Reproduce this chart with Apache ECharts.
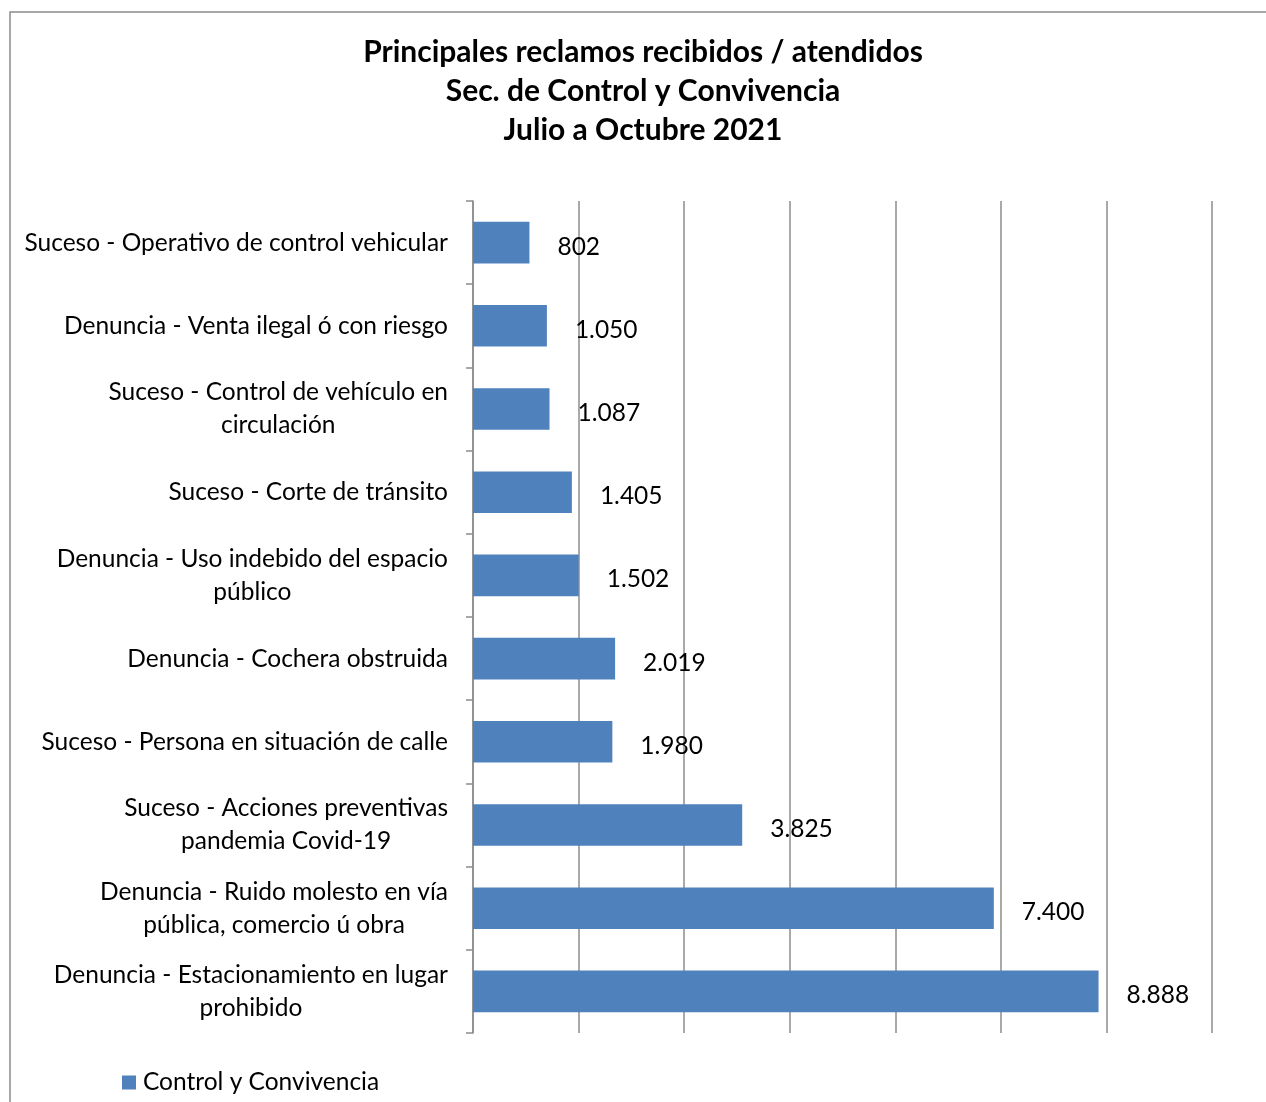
<!DOCTYPE html>
<html>
<head>
<meta charset="utf-8">
<script src="https://cdn.jsdelivr.net/npm/echarts@6/dist/echarts.min.js"></script>
<style>
html,body{margin:0;padding:0;background:#fff;}
#main{width:1266px;height:1102px;}
</style>
</head>
<body>
<div id="main"></div>
<script>
const titleLines = [
  'Principales reclamos recibidos / atendidos',
  'Sec. de Control y Convivencia',
  'Julio a Octubre 2021'
];
const categories = [
  'Suceso - Operativo de control vehicular',
  'Denuncia - Venta ilegal ó con riesgo',
  'Suceso - Control de vehículo en\ncirculación',
  'Suceso - Corte de tránsito',
  'Denuncia - Uso indebido del espacio\npúblico',
  'Denuncia - Cochera obstruida',
  'Suceso - Persona en situación de calle',
  'Suceso - Acciones preventivas\npandemia Covid-19',
  'Denuncia - Ruido molesto en vía\npública, comercio ú obra',
  'Denuncia - Estacionamiento en lugar\nprohibido'
];
const values = [802, 1050, 1087, 1405, 1502, 2019, 1980, 3825, 7400, 8888];
const seriesName = 'Control y Convivencia';

const FONT = 'Lato';
function fmt(v) {
  return String(v).replace(/\B(?=(\d{3})+(?!\d))/g, '.');
}

const chart = echarts.init(document.getElementById('main'));
chart.setOption({
  backgroundColor: '#ffffff',
  animation: false,
  graphic: [{
    type: 'rect',
    shape: {x: 10, y: 12, width: 1400, height: 1200},
    style: {fill: 'none', stroke: '#8c8c8c', lineWidth: 1.5},
    silent: true,
    z: -1
  }],
  title: {
    text: titleLines.join('\n'),
    left: 638,
    textAlign: 'center',
    top: 28,
    textStyle: {
      fontFamily: FONT,
      fontSize: 30,
      fontWeight: 'bold',
      color: '#000',
      lineHeight: 39
    }
  },
  legend: {
    data: [seriesName],
    left: 122,
    top: 1070,
    padding: 0,
    icon: 'rect',
    itemWidth: 14,
    itemHeight: 14,
    textStyle: {fontFamily: FONT, fontSize: 24.5, color: '#000', padding: [0, 0, 0, 2]}
  },
  grid: {left: 473, right: 54, top: 201, bottom: 69, containLabel: false},
  xAxis: {
    type: 'value',
    min: 0,
    max: 10500,
    interval: 1500,
    axisLabel: {show: false},
    axisLine: {show: false},
    axisTick: {show: false},
    splitLine: {show: true, lineStyle: {color: '#8c8c8c', width: 1.5}}
  },
  yAxis: {
    type: 'category',
    data: categories,
    inverse: true,
    axisLine: {show: true, lineStyle: {color: '#8c8c8c', width: 1.5}},
    axisTick: {show: true, length: 7, lineStyle: {color: '#8c8c8c', width: 1.5}},
    axisLabel: {
      margin: 25,
      color: '#000',
      fontFamily: FONT,
      fontSize: 24.5,
      lineHeight: 33,
      formatter: function (v) {
        return v.split('\n').map(function (l) { return '{c|' + l + '}'; }).join('\n');
      },
      rich: {
        c: {align: 'center', fontFamily: FONT, fontSize: 24.5, lineHeight: 33, color: '#000'}
      }
    }
  },
  series: [{
    name: seriesName,
    type: 'bar',
    data: values,
    barCategoryGap: '50%',
    itemStyle: {color: '#4F81BD'},
    label: {
      show: true,
      position: 'right',
      distance: 28,
      offset: [0, 4],
      fontFamily: FONT,
      fontSize: 24.5,
      color: '#000',
      formatter: function (p) { return fmt(p.value); }
    }
  }]
});
</script>
</body>
</html>
